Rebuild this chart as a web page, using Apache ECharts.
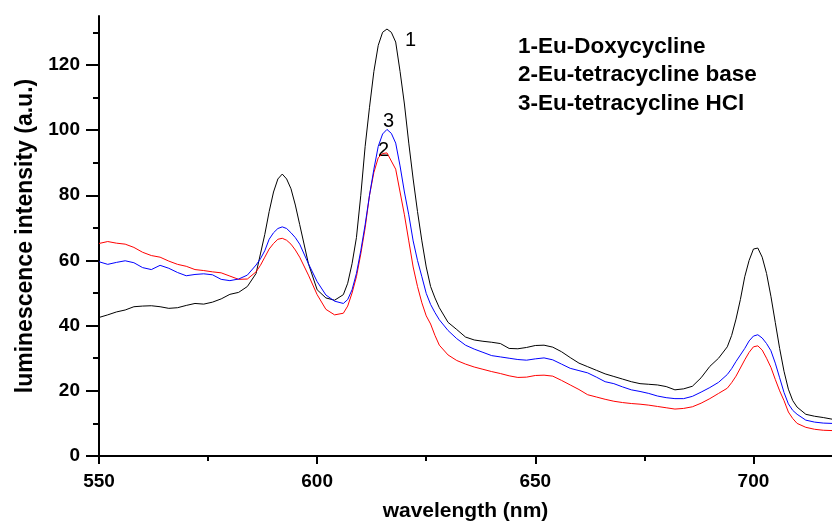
<!DOCTYPE html>
<html>
<head>
<meta charset="utf-8">
<script src="https://cdn.jsdelivr.net/npm/echarts@6/dist/echarts.min.js"></script>
<style>
  html, body { margin: 0; padding: 0; background: #fff; }
  #chartContainer { width: 832px; height: 523px; }
</style>
</head>
<body>
<div id="chartContainer"></div>
<script>
// wavelength (nm), finer steps around the peaks
const wavelengths = [
  550, 552, 554, 556, 558, 560, 562, 564, 566, 568, 570, 572, 574, 576, 578, 580, 582, 584,
  586, 587, 588, 589, 590, 591, 592, 593, 594, 595, 596, 598, 600, 602, 604,
  606, 607, 608, 609, 610, 611, 612, 613, 614, 615, 616, 617, 618, 619, 620, 621, 622, 623, 624, 625, 626, 627, 628,
  630, 632, 634, 636, 638, 640, 642, 644, 646, 648, 650, 652, 654, 656, 658, 660, 662, 664, 666, 668, 670,
  672, 674, 676, 678, 680, 682, 684, 686, 688, 690, 692,
  694, 695, 696, 697, 698, 699, 700, 701, 702, 703, 704, 705, 706, 707, 708, 709, 710,
  712, 714, 716, 718
];

// 1-Eu-Doxycycline (black)
const doxycycline = [
  42.5, 43.3, 44.2, 44.8, 45.8, 46.0, 46.1, 45.8, 45.3, 45.5, 46.2, 46.8, 46.6, 47.2, 48.2, 49.6, 50.2, 52.0,
  56, 62, 68, 75, 81, 85, 86.5, 85, 82, 77, 71, 59, 51, 48.5, 47.8,
  49.5, 53, 59, 67, 80, 95, 107, 118, 126, 130, 131, 130, 127, 118, 108, 96, 85, 75, 66, 58, 52, 48.5, 45.5,
  41, 38.8, 36.5, 35.6, 35.2, 34.9, 34.5, 33, 32.9, 33.3, 33.9, 34, 33.4, 32, 30.2, 28.5, 27.4, 26.3, 25.2, 24.4, 23.6,
  22.8, 22.2, 22.0, 21.8, 21.3, 20.3, 20.6, 21.4, 24, 27.5, 30,
  33.5, 37, 42, 48, 55, 60, 63.5, 63.8, 61, 56, 49, 41, 33, 26, 20.5, 17, 15,
  12.8, 12.2, 11.8, 11.3
];

// 2-Eu-tetracycline base (red)
const tcBase = [
  65.2, 65.8, 65.3, 65.0, 64, 62.5, 61.5, 61, 59.8, 58.8, 58.2, 57.2, 56.9, 56.5, 56.2, 55.2, 54.2, 54.3,
  56.5, 58.5, 61, 63.5, 65.2, 66.5, 66.8, 66.2, 65, 63.2, 61, 55.5, 49.5, 45, 43.3,
  43.8, 46, 50, 55, 62, 70, 80, 87, 91.5, 92.8, 93, 90.5, 88, 81, 74, 66, 58, 52, 47, 43, 40.5, 37, 34,
  31, 29.3, 28.2, 27.3, 26.6, 25.9, 25.3, 24.6, 24.1, 24.2, 24.7, 24.8, 24.5, 23.2, 21.8, 20.4, 18.8, 18.1, 17.4, 16.8, 16.4,
  16.1, 15.9, 15.6, 15.2, 14.8, 14.4, 14.6, 15.1, 16.2, 17.6, 19.2,
  20.8, 22.5, 24.5, 27, 29.5, 31.8, 33.5, 33.8, 32.5, 30, 27.2, 23.5, 20, 17, 13.5, 11.5, 10,
  8.8, 8.2, 7.9, 7.8
];

// 3-Eu-tetracycline HCl (blue)
const tcHCl = [
  59.6, 58.8, 59.4, 59.9, 59.3, 57.8, 57.2, 58.5, 57.6, 56.3, 55.3, 55.7, 55.9, 55.6, 54.2, 53.8, 54.3, 55.5,
  58.6, 60.5, 63, 66.5, 68.5, 69.8, 70.3, 69.8, 68.5, 67, 65, 59, 53.5, 49.4, 47.5,
  46.8, 48, 51, 56, 63, 71, 80, 88, 95, 98.8, 100.2, 99, 96, 89, 81, 74, 66, 60, 55, 49.9, 46.5, 44, 41.8,
  38.5, 36, 34, 32.8, 31.8, 30.8, 30.4, 30, 29.6, 29.4, 29.8, 30.1, 29.5, 28.2, 26.9, 26.2, 25.5, 24.2, 22.8, 22.2, 21.2,
  20.3, 19.8, 19.2, 18.4, 17.9, 17.6, 17.6, 18.3, 19.6, 21, 22.6,
  25, 26.8, 29, 31, 33, 35.3, 36.8, 37.2, 36.2, 34.5, 32.3, 28.5, 24, 19.5, 16, 14, 12.8,
  11, 10.4, 10.1, 10
];

const xMajorTicks = [550, 600, 650, 700];
const xMinorTicks = [575, 625, 675];
const yMajorTicks = [0, 20, 40, 60, 80, 100, 120];
const yMinorTicks = [10, 30, 50, 70, 90, 110, 130];

const legendLines = ['1-Eu-Doxycycline', '2-Eu-tetracycline base', '3-Eu-tetracycline HCl'];

const FONT = '"Liberation Sans", Arial, Helvetica, sans-serif';

function toPairs(values) {
    return wavelengths.map((w, i) => [w, values[i]]);
}

function lineSeries(name, values, color) {
    return {
        name: name,
        type: 'line',
        data: toPairs(values),
        showSymbol: false,
        symbol: 'none',
        smooth: false,
        lineStyle: { color: color, width: 1 },
        itemStyle: { color: color },
        xAxisIndex: 0,
        yAxisIndex: 0
    };
}

const myChart = echarts.init(document.getElementById('chartContainer'));

const axisLine = { show: true, lineStyle: { color: '#000', width: 2 } };

const option = {
    animation: false,
    backgroundColor: '#fff',
    grid: { left: 99, right: 0, top: 16, bottom: 67, containLabel: false, outerBoundsMode: 'none' },
    xAxis: [{
        type: 'value',
        min: 550,
        max: 718,
        interval: 50,
        name: 'wavelength (nm)',
        nameLocation: 'middle',
        nameGap: 45,
        nameTextStyle: { fontFamily: FONT, fontWeight: 'bold', fontSize: 21, color: '#000' },
        axisLine: axisLine,
        axisTick: { show: true, length: 8, lineStyle: { color: '#000', width: 2 }, customValues: xMajorTicks },
        axisLabel: { fontFamily: FONT, fontWeight: 'bold', fontSize: 19, color: '#000', margin: 16, customValues: xMajorTicks },
        splitLine: { show: false }
    }, {
        type: 'value',
        min: 550,
        max: 718,
        position: 'bottom',
        axisLine: { show: false },
        axisTick: { show: true, length: 5, lineStyle: { color: '#000', width: 2 }, customValues: xMinorTicks },
        axisLabel: { show: false },
        splitLine: { show: false }
    }],
    yAxis: [{
        type: 'value',
        min: 0,
        max: 135,
        interval: 20,
        name: 'luminescence intensity (a.u.)',
        nameLocation: 'middle',
        nameGap: 62,
        nameTextStyle: { fontFamily: FONT, fontWeight: 'bold', fontSize: 23, color: '#000' },
        axisLine: axisLine,
        axisTick: { show: true, length: 13, lineStyle: { color: '#000', width: 2 }, customValues: yMajorTicks },
        axisLabel: { fontFamily: FONT, fontWeight: 'bold', fontSize: 19, color: '#000', margin: 19, customValues: yMajorTicks },
        splitLine: { show: false }
    }, {
        type: 'value',
        min: 0,
        max: 135,
        position: 'left',
        axisLine: { show: false },
        axisTick: { show: true, length: 6, lineStyle: { color: '#000', width: 2 }, customValues: yMinorTicks },
        axisLabel: { show: false },
        splitLine: { show: false }
    }],
    series: [
        lineSeries(legendLines[0], doxycycline, '#000000'),
        lineSeries(legendLines[1], tcBase, '#ff0000'),
        lineSeries(legendLines[2], tcHCl, '#0000ff')
    ],
    graphic: [
        { type: 'text', left: 518, top: 35, style: { text: legendLines[0], font: 'bold 22.5px ' + FONT, fill: '#000' } },
        { type: 'text', left: 518, top: 63, style: { text: legendLines[1], font: 'bold 22.5px ' + FONT, fill: '#000' } },
        { type: 'text', left: 518, top: 92, style: { text: legendLines[2], font: 'bold 22.5px ' + FONT, fill: '#000' } },
        { type: 'text', left: 405, top: 30, style: { text: '1', font: '20px ' + FONT, fill: '#000' } },
        { type: 'text', left: 383, top: 111, style: { text: '3', font: '20px ' + FONT, fill: '#000' } },
        { type: 'text', left: 378, top: 140, style: { text: '2', font: '20px ' + FONT, fill: '#000' } }
    ]
};

myChart.setOption(option);
</script>
</body>
</html>
